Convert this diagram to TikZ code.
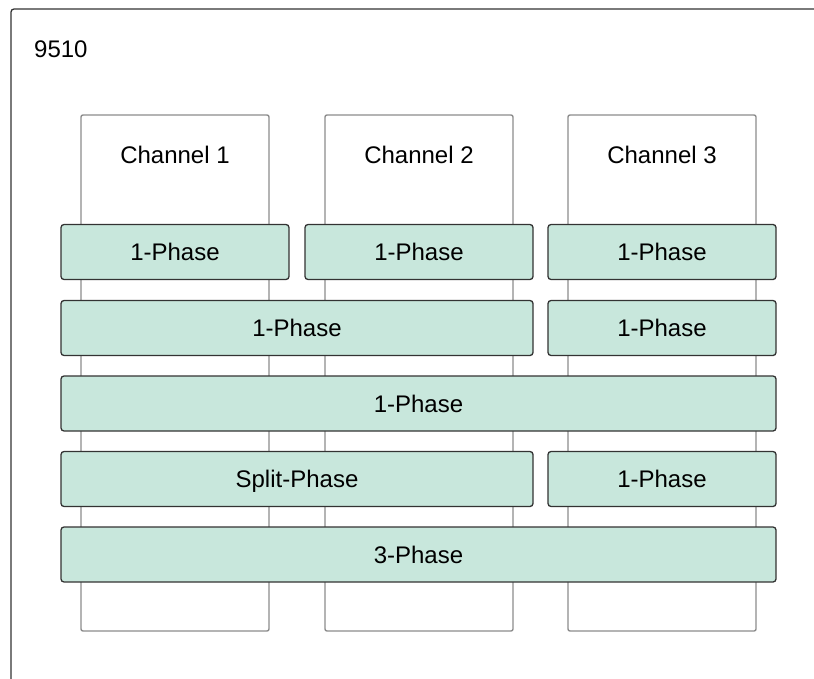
\documentclass[tikz,border=0pt]{standalone}
\usepackage{fontspec}
\setmainfont{Liberation Sans}
\usetikzlibrary{positioning}
\definecolor{phasegreen}{HTML}{C8E7DC}
\definecolor{edgedark}{HTML}{333333}
\definecolor{chgray}{HTML}{8C8C8C}

\begin{document}
\begin{tikzpicture}[x=1pt, y=-1pt,
  every node/.style={font=\fontsize{24}{28}\selectfont, inner sep=0pt, text height=17pt, text depth=0pt},
  chan/.style={draw=chgray, line width=1.4pt, rounded corners=2pt, minimum width=188pt, minimum height=516pt},
  bar/.style={draw=edgedark, line width=1.3pt, rounded corners=3pt, fill=phasegreen, minimum height=55pt}]
\useasboundingbox (0,0) rectangle (814,679);
\draw[edgedark, line width=1.3pt, rounded corners=3pt] (11,9) rectangle (840,700);
\node[anchor=west] (dev) at (34,49) {9510};
% channels
\node[chan] (c1) at (175,373) {};
\node[chan] (c2) at (419,373) {};
\node[chan] (c3) at (662,373) {};
\node (t1) at (175,155) {Channel 1};
\node (t2) at (419,155) {Channel 2};
\node (t3) at (662,155) {Channel 3};
% phase bars
\node[bar, minimum width=228pt] (r1a) at (175,252) {1-Phase};
\node[bar, minimum width=228pt] (r1b) at (419,252) {1-Phase};
\node[bar, minimum width=228pt] (r1c) at (662,252) {1-Phase};
\node[bar, minimum width=472pt] (r2a) at (297,328) {1-Phase};
\node[bar, minimum width=228pt] (r2b) at (662,328) {1-Phase};
\node[bar, minimum width=715pt] (r3) at (418.5,403.5) {1-Phase};
\node[bar, minimum width=472pt] (r4a) at (297,479) {Split-Phase};
\node[bar, minimum width=228pt] (r4b) at (662,479) {1-Phase};
\node[bar, minimum width=715pt] (r5) at (418.5,554.5) {3-Phase};
\end{tikzpicture}
\end{document}
